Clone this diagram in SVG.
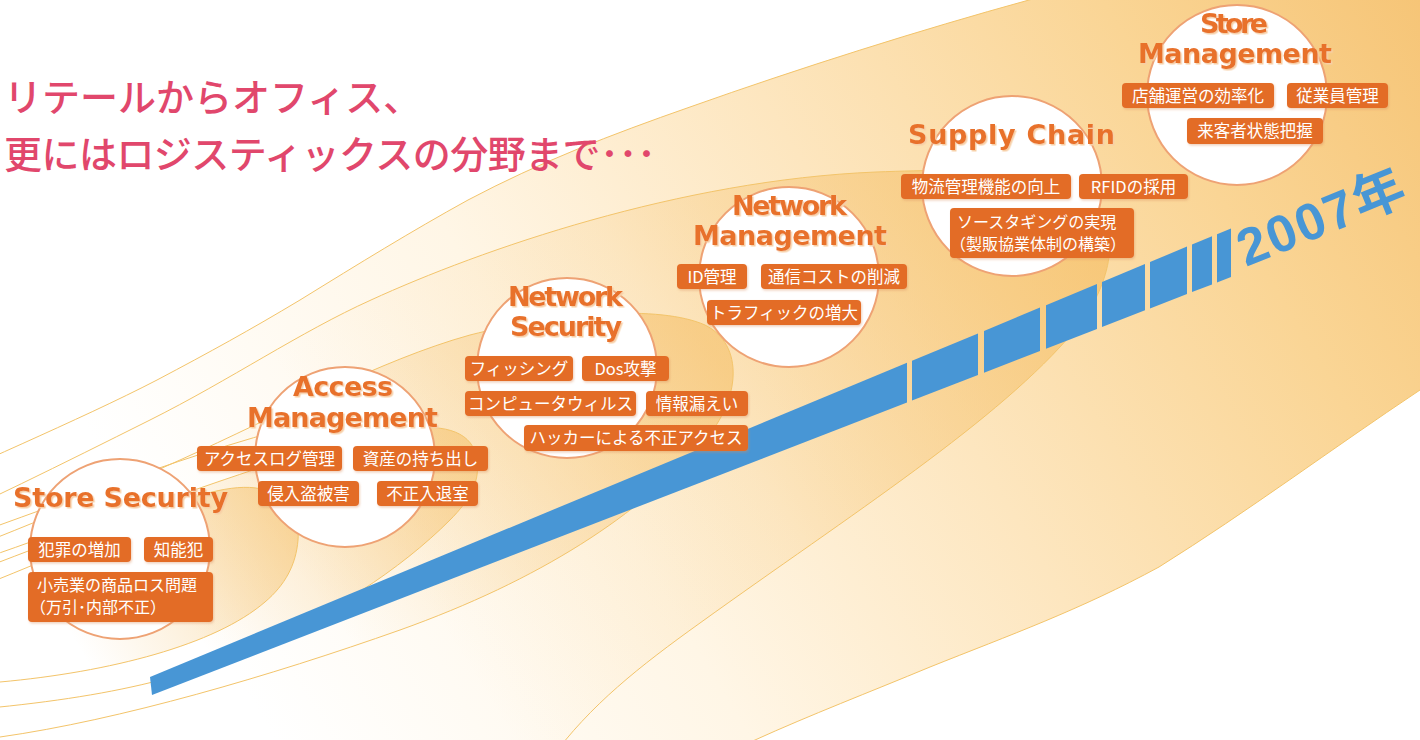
<svg xmlns="http://www.w3.org/2000/svg" width="1420" height="740" viewBox="0 0 1420 740">
<defs>
<style>
.edge{stroke:#f3c46a;stroke-width:1}
.line{fill:none;stroke:#f3c46a;stroke-width:1}
.ring{fill:#fff;stroke:#eea274;stroke-width:2}
.ttl{font-family:"DejaVu Sans","Liberation Sans",sans-serif;font-weight:700;font-size:27px;fill:#e8712c}
.lb{fill:#e36c26}
.lt{font-family:"Noto Sans CJK JP",sans-serif;font-size:16.5px;fill:#fff;text-anchor:middle}
.ltl{font-family:"Noto Sans CJK JP",sans-serif;font-size:16px;fill:#fff}
.bar{fill:#4896d5}
.head{font-family:"Noto Sans CJK JP",sans-serif;font-size:38px;font-weight:500;fill:#e1476c}
.yr{font-family:"Liberation Sans","Noto Sans CJK JP",sans-serif;font-weight:700;font-size:52px;fill:#4896d5}
</style>
<linearGradient id="gA" gradientUnits="userSpaceOnUse" x1="250" y1="700" x2="1420" y2="0">
<stop offset="0" stop-color="#ffffff"/>
<stop offset="0.3" stop-color="#fff6e6"/>
<stop offset="0.55" stop-color="#fde6bf"/>
<stop offset="0.8" stop-color="#fad595"/>
<stop offset="1" stop-color="#f6c577"/>
</linearGradient>
<linearGradient id="gB" gradientUnits="userSpaceOnUse" x1="450" y1="640" x2="1100" y2="230">
<stop offset="0" stop-color="#f5bf66" stop-opacity="0"/>
<stop offset="0.45" stop-color="#f5bf66" stop-opacity="0.2"/>
<stop offset="1" stop-color="#f5bf66" stop-opacity="0.7"/>
</linearGradient>
<linearGradient id="gC" gradientUnits="userSpaceOnUse" x1="350" y1="640" x2="720" y2="360">
<stop offset="0" stop-color="#f5bf66" stop-opacity="0"/>
<stop offset="1" stop-color="#f5bf66" stop-opacity="0.6"/>
</linearGradient>
<linearGradient id="gD" gradientUnits="userSpaceOnUse" x1="200" y1="640" x2="470" y2="450">
<stop offset="0" stop-color="#f5bf66" stop-opacity="0"/>
<stop offset="1" stop-color="#f5bf66" stop-opacity="0.55"/>
</linearGradient>
<linearGradient id="gE" gradientUnits="userSpaceOnUse" x1="80" y1="650" x2="298" y2="520">
<stop offset="0" stop-color="#f5bf66" stop-opacity="0"/>
<stop offset="1" stop-color="#f5bf66" stop-opacity="0.55"/>
</linearGradient>
<filter id="tsh" x="-10%" y="-30%" width="120%" height="160%">
<feDropShadow dx="1.5" dy="1.5" stdDeviation="0.6" flood-color="#f7cfa6" flood-opacity="1"/>
</filter>
<filter id="lsh" x="-10%" y="-20%" width="120%" height="150%">
<feDropShadow dx="1" dy="1.5" stdDeviation="0.8" flood-color="#d88a5a" flood-opacity="0.4"/>
</filter>
</defs>

<rect width="1420" height="740" fill="#fff"/>

<g id="background">
<path class="edge" fill="url(#gA)" d="M -100,500 C -40,470 80,420 157,380 C 210,352 250,330 300,300 C 360,263 410,232 468,200 C 540,162 610,135 690,107 C 800,68 920,30 1029,0 C 1120,-25 1250,-60 1350,-80 L 1520,-80 L 1520,320 C 1480,350 1450,370 1420,390 C 1330,450 1250,510 1159,567 C 1080,610 1010,635 930,667 C 870,692 810,715 755,740 C 700,765 640,790 600,800 L -100,800 Z"/>
<path class="edge" fill="url(#gB)" d="M -100,540 C -20,505 60,465 150,420 C 230,380 300,332 371,300 C 480,250 680,180 876,172 C 980,168 1060,170 1095,205 C 1125,235 1105,295 1075,330 C 1000,420 850,515 700,623 C 640,666 590,705 550,760 L -100,760 Z"/>
<path class="edge" fill="url(#gC)" d="M -100,575 C -20,545 80,505 180,460 C 280,415 380,360 470,335 C 560,312 660,305 705,325 C 745,345 740,400 705,440 C 640,515 540,580 400,630 C 270,676 120,720 0,737 C -40,742 -70,745 -100,745 Z"/>
<path class="edge" fill="url(#gD)" d="M -100,600 C -20,570 80,530 180,495 C 260,467 340,440 400,430 C 440,423 470,430 476,455 C 482,480 470,500 450,520 C 400,570 330,615 250,650 C 160,688 60,705 -100,715 Z"/>
<path class="edge" fill="url(#gE)" d="M -100,615 C -20,590 80,545 160,510 C 200,493 240,482 265,490 C 290,498 300,520 298,540 C 296,565 285,585 265,602 C 215,645 110,672 0,682 C -40,686 -70,690 -100,692 Z"/>
<path class="line" d="M -100,560 C 20,520 180,455 300,425"/>
<path class="line" d="M -100,585 C 0,555 70,528 125,505"/>
</g>

<g id="timeline">
<polygon class="bar" points="150,677 907,362.8 907,402.5 152,695"/>
<polygon class="bar" points="912,360.8 978,333.4 978,375 912,400.6"/>
<polygon class="bar" points="984,330.9 1040,307.6 1040,351 984,372.7"/>
<polygon class="bar" points="1046,305.2 1097,284 1097,328.9 1046,348.7"/>
<polygon class="bar" points="1102,281.9 1145,264.1 1145,310.3 1102,327"/>
<polygon class="bar" points="1150,262 1187,246.6 1187,294 1150,308.4"/>
<polygon class="bar" points="1192,244.6 1212,236.3 1212,284.4 1192,292.1"/>
<polygon class="bar" points="1217,234.2 1231,228.4 1231,277 1217,282.4"/>
<text class="yr" transform="translate(1246,267) rotate(-22)" textLength="176" lengthAdjust="spacing">2007年</text>
</g>

<g id="headline">
<text class="head" x="4" y="111">リテールからオフィス、</text>
<text class="head" x="4" y="168" textLength="652" lengthAdjust="spacing">更にはロジスティックスの分野まで･･･</text>
</g>

<g id="store-security">
<circle class="ring" cx="120" cy="549" r="90"/>
<text class="ttl" x="13" y="507" textLength="215" lengthAdjust="spacing" filter="url(#tsh)">Store Security</text>
<g filter="url(#lsh)">
<rect class="lb" x="28" y="537" width="103" height="25" rx="4"/>
<rect class="lb" x="144" y="537" width="69" height="25" rx="4"/>
<rect class="lb" x="28" y="572" width="185" height="50" rx="4"/>
</g>
<text class="lt" x="79.5" y="555.5">犯罪の増加</text>
<text class="lt" x="178.5" y="555.5">知能犯</text>
<text class="ltl" x="37" y="591">小売業の商品ロス問題</text>
<text class="ltl" x="30" y="613">（万引･内部不正）</text>
</g>

<g id="access-management">
<circle class="ring" cx="345" cy="457" r="90"/>
<text class="ttl" x="293" y="396" textLength="100" lengthAdjust="spacing" filter="url(#tsh)">Access</text>
<text class="ttl" x="247" y="427" textLength="191" lengthAdjust="spacing" filter="url(#tsh)">Management</text>
<g filter="url(#lsh)">
<rect class="lb" x="197" y="446" width="145" height="25" rx="4"/>
<rect class="lb" x="353" y="446" width="135" height="25" rx="4"/>
<rect class="lb" x="258" y="481" width="101" height="25" rx="4"/>
<rect class="lb" x="377" y="481" width="101" height="25" rx="4"/>
</g>
<text class="lt" x="269.5" y="464.5">アクセスログ管理</text>
<text class="lt" x="420.5" y="464.5">資産の持ち出し</text>
<text class="lt" x="308.5" y="499.5">侵入盗被害</text>
<text class="lt" x="427.5" y="499.5">不正入退室</text>
</g>

<g id="network-security">
<circle class="ring" cx="567" cy="368" r="90"/>
<text class="ttl" x="508" y="306" textLength="115" lengthAdjust="spacing" filter="url(#tsh)">Network</text>
<text class="ttl" x="510" y="336" textLength="112" lengthAdjust="spacing" filter="url(#tsh)">Security</text>
<g filter="url(#lsh)">
<rect class="lb" x="465" y="356" width="108" height="25" rx="4"/>
<rect class="lb" x="582" y="356" width="87" height="25" rx="4"/>
<rect class="lb" x="465" y="391" width="171" height="25" rx="4"/>
<rect class="lb" x="646" y="391" width="102" height="25" rx="4"/>
<rect class="lb" x="524" y="425" width="224" height="26" rx="4"/>
</g>
<text class="lt" x="519" y="374.5">フィッシング</text>
<text class="lt" x="625.5" y="374.5">Dos攻撃</text>
<text class="lt" x="550.5" y="409.5">コンピュータウィルス</text>
<text class="lt" x="697" y="409.5">情報漏えい</text>
<text class="lt" x="636" y="444">ハッカーによる不正アクセス</text>
</g>

<g id="network-management">
<circle class="ring" cx="789" cy="277" r="90"/>
<text class="ttl" x="732" y="215" textLength="115" lengthAdjust="spacing" filter="url(#tsh)">Network</text>
<text class="ttl" x="693" y="245" textLength="194" lengthAdjust="spacing" filter="url(#tsh)">Management</text>
<g filter="url(#lsh)">
<rect class="lb" x="677" y="264" width="70" height="25" rx="4"/>
<rect class="lb" x="761" y="264" width="146" height="25" rx="4"/>
<rect class="lb" x="707" y="300" width="154" height="25" rx="4"/>
</g>
<text class="lt" x="712" y="282.5">ID管理</text>
<text class="lt" x="834" y="282.5">通信コストの削減</text>
<text class="lt" x="784" y="318.5">トラフィックの増大</text>
</g>

<g id="supply-chain">
<circle class="ring" cx="1012" cy="186" r="90"/>
<text class="ttl" x="908" y="144" textLength="207" lengthAdjust="spacing" filter="url(#tsh)">Supply Chain</text>
<g filter="url(#lsh)">
<rect class="lb" x="901" y="174" width="170" height="25" rx="4"/>
<rect class="lb" x="1079" y="174" width="109" height="25" rx="4"/>
<rect class="lb" x="950" y="208" width="184" height="50" rx="4"/>
</g>
<text class="lt" x="986" y="192.5">物流管理機能の向上</text>
<text class="lt" x="1133.5" y="192.5">RFIDの採用</text>
<text class="ltl" x="957" y="228">ソースタギングの実現</text>
<text class="ltl" x="950" y="250">（製販協業体制の構築）</text>
</g>

<g id="store-management">
<circle class="ring" cx="1237" cy="95" r="90"/>
<text class="ttl" x="1200" y="33" textLength="68" lengthAdjust="spacing" filter="url(#tsh)">Store</text>
<text class="ttl" x="1138" y="63" textLength="194" lengthAdjust="spacing" filter="url(#tsh)">Management</text>
<g filter="url(#lsh)">
<rect class="lb" x="1122" y="83" width="152" height="25" rx="4"/>
<rect class="lb" x="1287" y="83" width="101" height="25" rx="4"/>
<rect class="lb" x="1187" y="118" width="136" height="26" rx="4"/>
</g>
<text class="lt" x="1198" y="101.5">店舗運営の効率化</text>
<text class="lt" x="1337.5" y="101.5">従業員管理</text>
<text class="lt" x="1255" y="137">来客者状態把握</text>
</g>
</svg>
